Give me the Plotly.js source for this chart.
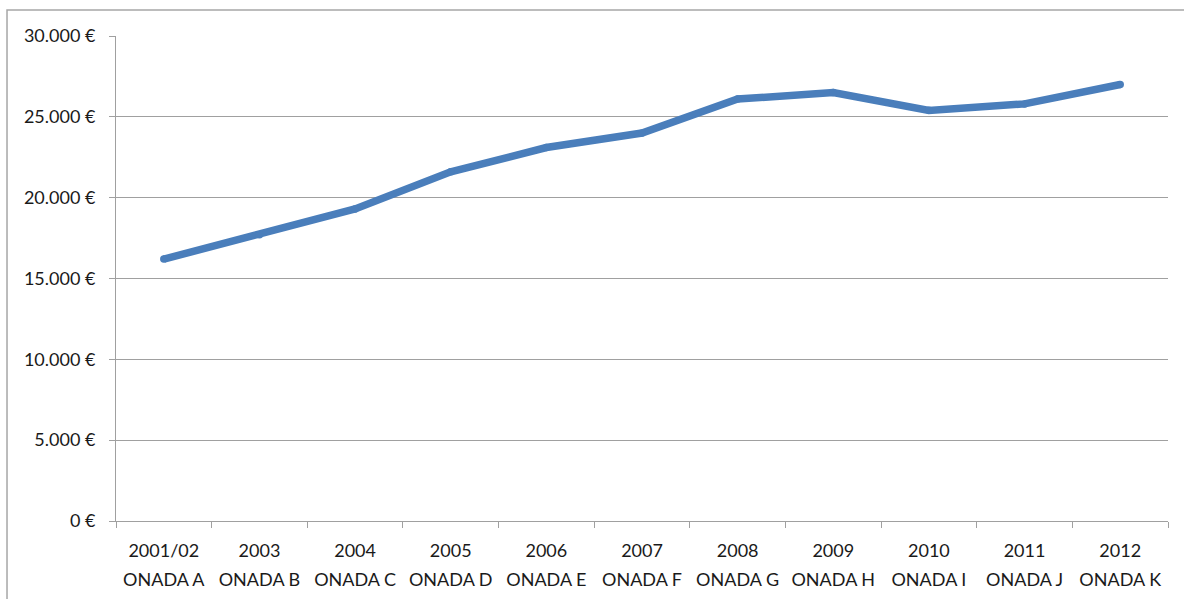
<!DOCTYPE html>
<html>
<head>
<meta charset="utf-8">
<script src="https://cdn.plot.ly/plotly-3.0.1.min.js"></script>
<style>
html,body{margin:0;padding:0;background:#fff;}
#chart{width:1184px;height:599px;}
</style>
</head>
<body>
<div id="chart"></div>
<script>
const years = ["2001/02","2003","2004","2005","2006","2007","2008","2009","2010","2011","2012"];
const onadaLabels = ["ONADA A","ONADA B","ONADA C","ONADA D","ONADA E","ONADA F","ONADA G","ONADA H","ONADA I","ONADA J","ONADA K"];
const values = [16200, 17700, 19300, 21600, 23100, 24000, 26100, 26500, 25400, 25800, 27000];
const yTickVals = [0, 5000, 10000, 15000, 20000, 25000, 30000];
const yTickText = ["0 €", "5.000 €", "10.000 €", "15.000 €", "20.000 €", "25.000 €", "30.000 €"];

const positions = years.map((_, i) => i);
const gray = "#a0a0a0";
const fontFam = "Lato, 'Open Sans', sans-serif";
const textColor = "#1a1a1a";

const trace = {
  x: years,
  y: values,
  type: "scatter",
  mode: "lines+markers",
  line: {color: "#4a7ebb", width: 7.5},
  marker: {color: "#4a7ebb", size: 7.5},
  hoverinfo: "skip",
  showlegend: false
};

const layout = {
  width: 1184,
  height: 599,
  margin: {l: 116, r: 16, t: 36, b: 78},
  paper_bgcolor: "#ffffff",
  plot_bgcolor: "#ffffff",
  font: {family: fontFam, size: 18, color: textColor},
  xaxis: {
    type: "category",
    range: [-0.5, years.length - 0.5],
    autorange: false,
    tickmode: "array",
    tickvals: years,
    ticktext: years,
    tickson: "boundaries",
    ticks: "outside",
    ticklen: 6,
    tickcolor: gray,
    showline: true,
    linecolor: gray,
    linewidth: 1,
    showgrid: false,
    zeroline: false,
    tickfont: {family: fontFam, size: 18, color: textColor},
    ticklabelstandoff: 13,
    fixedrange: true
  },
  xaxis2: {
    overlaying: "x",
    anchor: "y",
    side: "bottom",
    range: [-0.5, years.length - 0.5],
    autorange: false,
    tickmode: "array",
    tickvals: positions,
    ticktext: onadaLabels,
    ticks: "",
    showline: false,
    showgrid: false,
    zeroline: false,
    tickfont: {family: fontFam, size: 18, color: textColor},
    ticklabelstandoff: 46,
    fixedrange: true
  },
  yaxis: {
    range: [0, 30000],
    tickmode: "array",
    tickvals: yTickVals,
    ticktext: yTickText,
    ticks: "outside",
    ticklen: 6,
    tickcolor: gray,
    showline: true,
    linecolor: gray,
    linewidth: 1,
    showgrid: true,
    gridcolor: gray,
    gridwidth: 1,
    zeroline: false,
    tickfont: {family: fontFam, size: 18, color: textColor},
    ticklabelstandoff: 10,
    fixedrange: true
  },
  shapes: [{
    type: "rect",
    xref: "paper", yref: "paper",
    x0: -0.1036, x1: 1.1, y0: -0.3, y1: 1.0536,
    line: {color: "#a6a6a6", width: 1.5},
    fillcolor: "rgba(0,0,0,0)",
    layer: "below"
  }]
};

const onadaTrace = {
  x: positions,
  y: values,
  xaxis: "x2",
  yaxis: "y",
  type: "scatter",
  mode: "none",
  hoverinfo: "skip",
  showlegend: false
};

Plotly.newPlot("chart", [trace, onadaTrace], layout, {displayModeBar: false, staticPlot: true});
</script>
</body>
</html>
